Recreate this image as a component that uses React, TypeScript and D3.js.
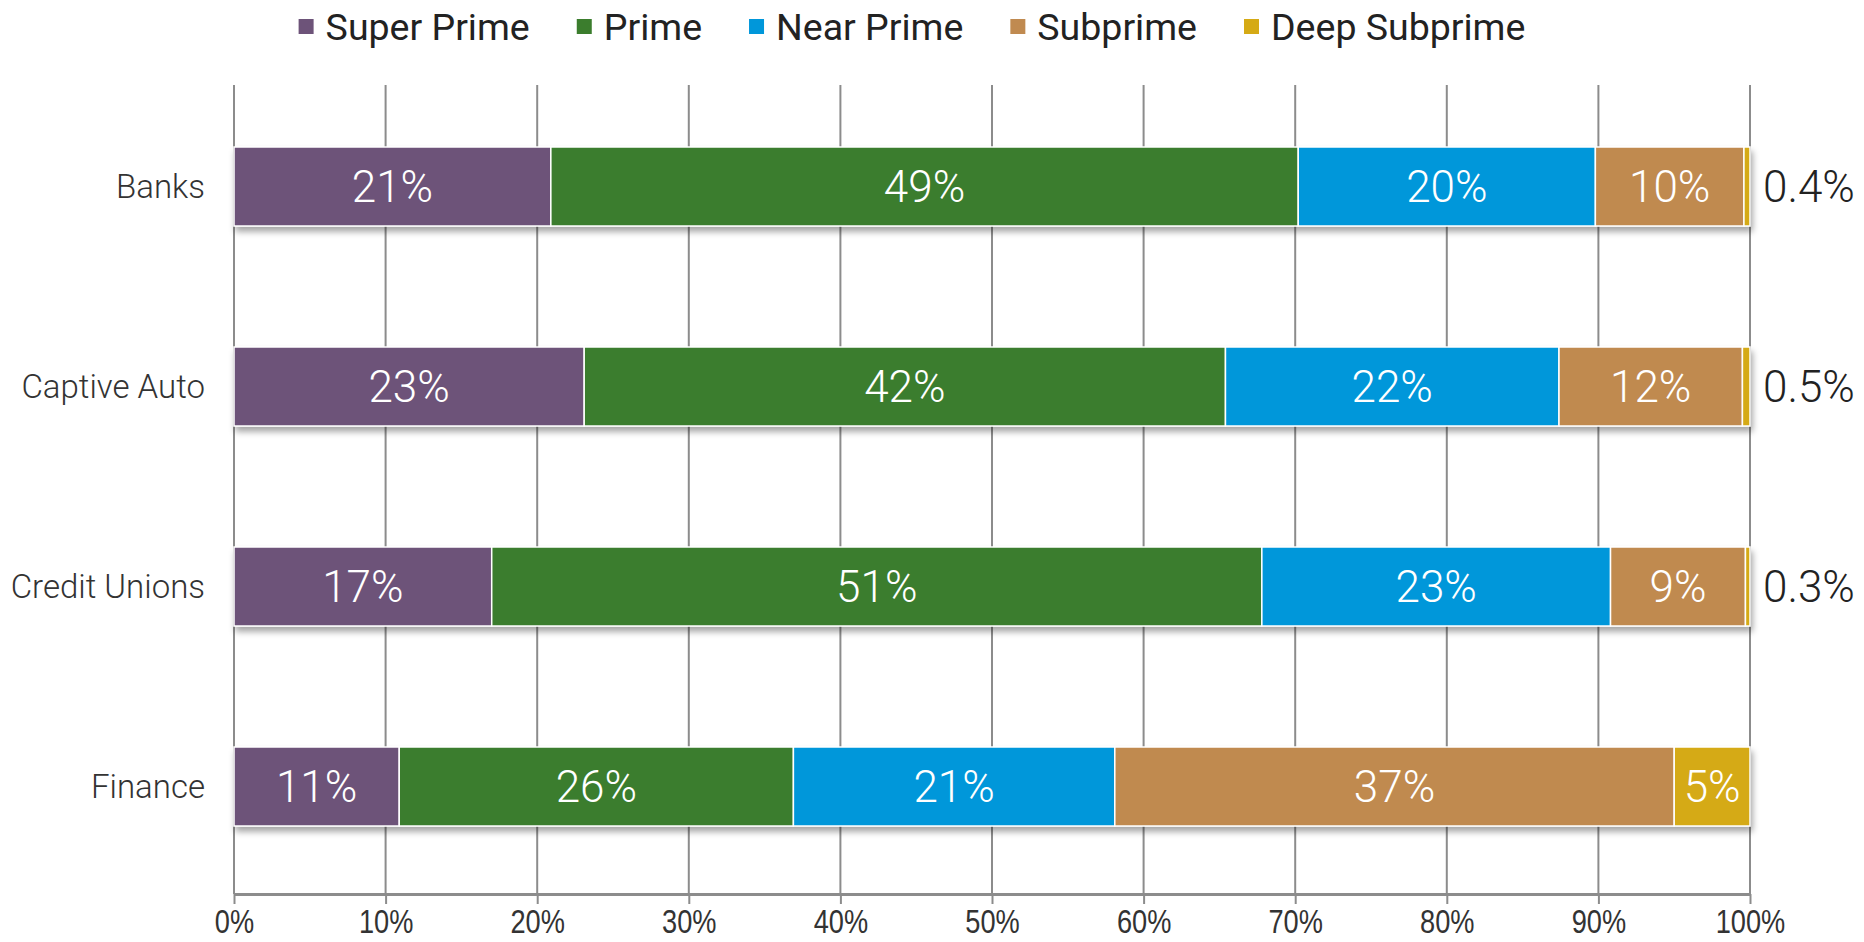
import React, { useEffect, useRef } from "react";
import * as d3 from "d3";

// Share of loans by credit tier for each lender type (percent of each bar)
const categories = ["Banks", "Captive Auto", "Credit Unions", "Finance"];
const seriesNames = ["Super Prime", "Prime", "Near Prime", "Subprime", "Deep Subprime"];
const superPrime = [20.9, 23.1, 17.0, 10.9];
const prime = [49.3, 42.3, 50.8, 26.0];
const nearPrime = [19.6, 22.0, 23.0, 21.2];
const subprime = [9.8, 12.1, 8.9, 36.9];
const deepSubprime = [0.4, 0.5, 0.3, 5.0];
const seriesColors = ["#6D5379", "#3B7D2D", "#0097DA", "#C08A50", "#D5AA15"];
const xTicks = [0, 10, 20, 30, 40, 50, 60, 70, 80, 90, 100];

const W = 1864;
const H = 942;
const FONT = "Roboto, 'Liberation Sans', Arial, sans-serif";
const AXIS_FONT = "'Liberation Sans', Arial, sans-serif";

export default function App() {
  const ref = useRef<SVGSVGElement | null>(null);

  useEffect(() => {
    document.body.style.margin = "0";
    const svg = d3.select(ref.current);
    svg.selectAll("*").remove();

    const series = [superPrime, prime, nearPrime, subprime, deepSubprime];

    const x = d3.scaleLinear().domain([0, 100]).range([234, 1750]);
    const y = d3
      .scaleBand<string>()
      .domain(categories)
      .range([86.5, 886.5])
      .paddingInner(0.605)
      .paddingOuter(0.3025);
    const gridTop = 85;
    const axisY = 894;

    const defs = svg.append("defs");
    const f = defs
      .append("filter")
      .attr("id", "barShadow")
      .attr("x", "-5%")
      .attr("y", "-20%")
      .attr("width", "110%")
      .attr("height", "150%");
    f.append("feDropShadow")
      .attr("dx", 2)
      .attr("dy", 5)
      .attr("stdDeviation", 3)
      .attr("flood-color", "#000")
      .attr("flood-opacity", 0.35);

    // vertical gridlines
    svg
      .append("g")
      .selectAll("line")
      .data(xTicks)
      .join("line")
      .attr("x1", (d) => x(d))
      .attr("x2", (d) => x(d))
      .attr("y1", gridTop)
      .attr("y2", axisY)
      .attr("stroke", "#8c8c8c")
      .attr("stroke-width", 2);

    // x axis
    const axis = svg
      .append("g")
      .attr("transform", `translate(0,${axisY})`)
      .call(
        d3
          .axisBottom(x)
          .tickValues(xTicks)
          .tickSize(10)
          .tickSizeOuter(0)
          .tickPadding(5)
          .tickFormat((d) => `${d}%`)
      );
    axis.select(".domain").attr("stroke", "#8c8c8c").attr("stroke-width", 3);
    axis.selectAll(".tick line").attr("stroke", "#8c8c8c").attr("stroke-width", 2);
    // narrow tick labels: squeezed horizontally around the tick position
    axis
      .selectAll<SVGTextElement, number>(".tick text")
      .attr("fill", "#333")
      .attr("transform", "scale(0.8,1)")
      .style("font-family", AXIS_FONT)
      .style("font-size", "34px");

    // stacked bars
    categories.forEach((cat, ci) => {
      const g = svg.append("g").attr("filter", "url(#barShadow)");
      let cum = 0;
      series.forEach((vals, si) => {
        const v = vals[ci];
        g.append("rect")
          .attr("x", x(cum))
          .attr("y", y(cat)!)
          .attr("width", x(cum + v) - x(cum))
          .attr("height", y.bandwidth())
          .attr("fill", seriesColors[si])
          .attr("stroke", "#fff")
          .attr("stroke-width", 1.5);
        cum += v;
      });
    });

    // value labels
    categories.forEach((cat, ci) => {
      const cy = y(cat)! + y.bandwidth() / 2;
      let cum = 0;
      series.forEach((vals) => {
        const v = vals[ci];
        const inside = v >= 1;
        svg
          .append("text")
          .attr("x", inside ? x(cum + v / 2) : x(100) + 13)
          .attr("y", cy)
          .attr("dy", "0.36em")
          .attr("text-anchor", inside ? "middle" : "start")
          .attr("fill", inside ? "#fff" : "#222")
          .style("font-family", FONT)
          .style("font-weight", 300)
          .style("font-size", "44px")
          .text(inside ? `${Math.round(v)}%` : `${v.toFixed(1)}%`);
        cum += v;
      });
    });

    // category labels
    svg
      .append("g")
      .selectAll("text")
      .data(categories)
      .join("text")
      .attr("x", 205)
      .attr("y", (d) => y(d)! + y.bandwidth() / 2)
      .attr("dy", "0.36em")
      .attr("text-anchor", "end")
      .attr("fill", "#333")
      .style("font-family", FONT)
      .style("font-weight", 300)
      .style("font-size", "33px")
      .text((d) => d);

    // legend, flowed left to right and centred
    const legend = svg.append("g");
    const items = seriesNames.map((name, i) => {
      const ig = legend.append("g");
      ig.append("rect")
        .attr("x", 0)
        .attr("y", 19)
        .attr("width", 15)
        .attr("height", 15)
        .attr("fill", seriesColors[i]);
      const t = ig
        .append("text")
        .attr("x", 27)
        .attr("y", 40)
        .attr("fill", "#222")
        .style("font-family", FONT)
        .style("font-size", "37.5px")
        .text(name);
      const w = 27 + (t.node() as SVGTextElement).getComputedTextLength();
      return { ig, w };
    });
    const gap = 47;
    const total = d3.sum(items, (d) => d.w) + gap * (items.length - 1);
    let lx = 912 - total / 2;
    items.forEach(({ ig, w }) => {
      ig.attr("transform", `translate(${lx},0)`);
      lx += w + gap;
    });
  }, []);

  return (
    <svg
      ref={ref}
      width={W}
      height={H}
      viewBox={`0 0 ${W} ${H}`}
      style={{ display: "block", background: "#fff" }}
    />
  );
}
